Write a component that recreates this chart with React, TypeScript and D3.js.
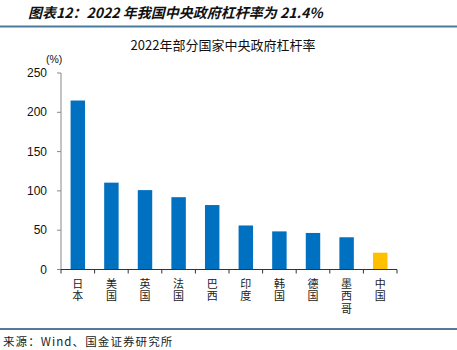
import React from "react";
import * as d3 from "d3";

const countries = ["日本", "美国", "英国", "法国", "巴西", "印度", "韩国", "德国", "墨西哥", "中国"];
const leverage = [215, 110.5, 101, 92, 82, 56, 48.5, 46.5, 41, 21.4];
const yTicks = [0, 50, 100, 150, 200, 250];

const WIDTH = 457;
const HEIGHT = 350;
const PLOT = { left: 61, right: 397, top: 73, bottom: 269.5 };
const SANS = "'Liberation Sans', Arial, sans-serif";
const CJK = "'Noto Sans CJK SC', sans-serif";

export default function App() {
  const xScale = d3
    .scaleBand()
    .domain(countries)
    .range([PLOT.left, PLOT.right])
    .paddingInner(0.57)
    .paddingOuter(0.285);

  const yScale = d3.scaleLinear().domain([0, 250]).range([PLOT.bottom, PLOT.top]);

  const step = xScale.step();
  const tickXs = d3.range(countries.length + 1).map((i) => PLOT.left + i * step);

  return (
    <svg
      width={WIDTH}
      height={HEIGHT}
      style={{ position: "absolute", left: 0, top: 0, background: "white" }}
    >
      {/* header */}
      <text
        x={28}
        y={18}
        fontFamily={CJK}
        fontSize={14}
        fontWeight="bold"
        fontStyle="italic"
        fill="#111"
      >
        图表12：2022 年我国中央政府杠杆率为 21.4%
      </text>
      <line x1={0} x2={WIDTH} y1={26.5} y2={26.5} stroke="#4a7a9c" strokeWidth={2} />

      <text x={223} y={50} textAnchor="middle" fontFamily={CJK} fontSize={13} fill="#111">
        2022年部分国家中央政府杠杆率
      </text>
      <text x={46} y={63} fontFamily={SANS} fontSize={10.5} fill="#111">
        (%)
      </text>

      {/* y axis */}
      <line x1={PLOT.left} x2={PLOT.left} y1={PLOT.top} y2={PLOT.bottom} stroke="#888" />
      {yTicks.map((t) => (
        <g key={t}>
          <line
            x1={PLOT.left - 4}
            x2={PLOT.left}
            y1={yScale(t)}
            y2={yScale(t)}
            stroke="#888"
          />
          <text
            x={47}
            y={yScale(t)}
            textAnchor="end"
            dominantBaseline="central"
            fontFamily={SANS}
            fontSize={12}
            fill="#111"
          >
            {t}
          </text>
        </g>
      ))}

      {/* bars */}
      {countries.map((c, i) => (
        <rect
          key={c}
          x={xScale(c)}
          y={yScale(leverage[i])}
          width={xScale.bandwidth()}
          height={PLOT.bottom - yScale(leverage[i])}
          fill={c === "中国" ? "#FFC000" : "#0070C0"}
        />
      ))}

      {/* x axis */}
      <line x1={PLOT.left} x2={PLOT.right} y1={PLOT.bottom} y2={PLOT.bottom} stroke="#333" />
      {tickXs.map((x, i) => (
        <line key={i} x1={x} x2={x} y1={PLOT.bottom} y2={PLOT.bottom + 4} stroke="#333" />
      ))}
      {countries.map((c) => (
        <text
          key={c}
          x={(xScale(c) ?? 0) + xScale.bandwidth() / 2}
          y={278.5}
          style={{ writingMode: "vertical-rl" }}
          letterSpacing={1.3}
          fontFamily={CJK}
          fontSize={11}
          fill="#222"
        >
          {c}
        </text>
      ))}

      {/* footer */}
      <line x1={0} x2={WIDTH} y1={329} y2={329} stroke="#1f4e79" strokeWidth={1.5} />
      <text x={3} y={346} fontFamily={CJK} fontSize={11.5} letterSpacing={1.1} fill="#222">
        来源：Wind、国金证券研究所
      </text>
    </svg>
  );
}
